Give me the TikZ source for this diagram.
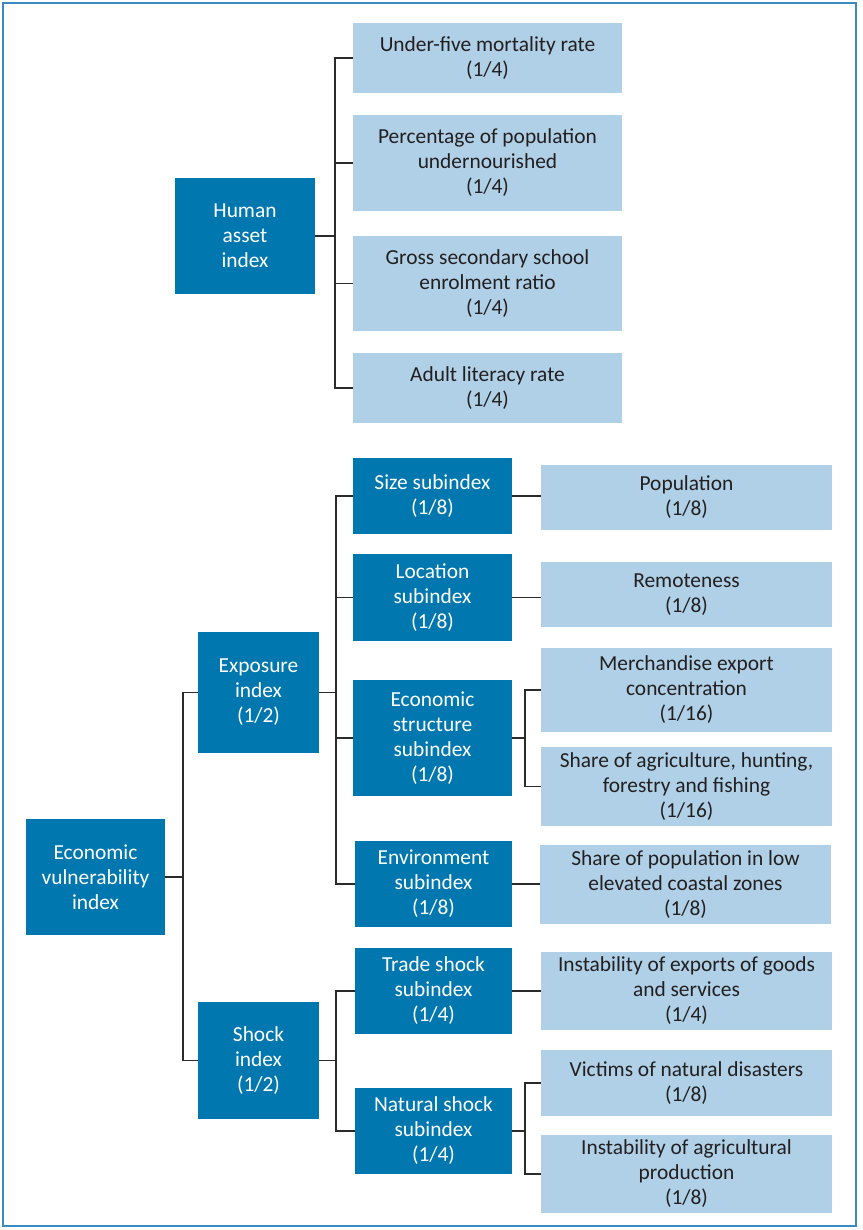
\documentclass[tikz,border=0pt]{standalone}
\usepackage{fontspec}
\setmainfont{Carlito}
\definecolor{dblue}{HTML}{0077AE}
\definecolor{lblue}{HTML}{AFD0E6}
\definecolor{txt}{HTML}{231F20}
\definecolor{lnc}{HTML}{2B2B2B}
\definecolor{frame}{HTML}{3A8CC0}
\begin{document}
\begin{tikzpicture}[x=1pt,y=-1pt,
  box/.style={rectangle,inner sep=0pt,align=center,font=\fontsize{21.4}{25}\selectfont},
  dbox/.style={box,fill=dblue,text=white},
  lbox/.style={box,fill=lblue,text=txt},
  conn/.style={draw=lnc,line width=1.6pt}]
\useasboundingbox (0,0) rectangle (862,1230);
\draw[frame,line width=1.2pt] (3,3) rectangle (856,1226);
% helper: node from corners
\newcommand{\bx}[6]{\node[#1,minimum width={#4-#2},minimum height={#5-#3}] (#6) at ({(#2+#4)/2},{(#3+#5)/2})}
% Human asset
\bx{dbox}{175}{178}{315}{294}{hai} {Human\\asset\\index};
\bx{lbox}{353}{23}{622}{93}{u5} {Under-five mortality rate\\(1/4)};
\bx{lbox}{353}{115}{622}{211}{pu} {Percentage of population\\undernourished\\(1/4)};
\bx{lbox}{353}{236}{622}{331}{gs} {Gross secondary school\\enrolment ratio\\(1/4)};
\bx{lbox}{353}{353}{622}{423}{al} {Adult literacy rate\\(1/4)};
\coordinate (f1) at (335,0);
\draw[conn] (hai.east) -- (hai.east -| f1);
\draw[conn] (u5.west) -- (u5.west -| f1) -- (al.west -| f1) -- (al.west);
\draw[conn] (pu.west) -- (pu.west -| f1);
\draw[conn] (gs.west) -- (gs.west -| f1);
% Economic vulnerability
\bx{dbox}{26}{819}{165}{935}{evi} {Economic\\vulnerability\\index};
\bx{dbox}{198}{632}{319}{753}{exp} {Exposure\\index\\(1/2)};
\bx{dbox}{198}{1002}{319}{1119}{shk} {Shock\\index\\(1/2)};
\coordinate (f2) at (183,0);
\draw[conn] (evi.east) -- (evi.east -| f2);
\draw[conn] (exp.west) -- (exp.west -| f2) -- (shk.west -| f2) -- (shk.west);
% subindices
\bx{dbox}{353}{458}{512}{534}{size} {Size subindex\\(1/8)};
\bx{dbox}{353}{554}{512}{641}{loc} {Location\\subindex\\(1/8)};
\bx{dbox}{353}{680}{512}{796}{ecs} {Economic\\structure\\subindex\\(1/8)};
\bx{dbox}{355}{841}{512}{927}{env} {Environment\\subindex\\(1/8)};
\bx{dbox}{355}{948}{512}{1034}{trd} {Trade shock\\subindex\\(1/4)};
\bx{dbox}{355}{1088}{512}{1174}{nat} {Natural shock\\subindex\\(1/4)};
\coordinate (f3) at (336,0);
\draw[conn] (exp.east) -- (exp.east -| f3);
\draw[conn] (size.west) -- (size.west -| f3) -- (env.west -| f3) -- (env.west);
\draw[conn] (loc.west) -- (loc.west -| f3);
\draw[conn] (ecs.west) -- (ecs.west -| f3);
\draw[conn] (shk.east) -- (shk.east -| f3);
\draw[conn] (trd.west) -- (trd.west -| f3) -- (nat.west -| f3) -- (nat.west);
% leaves
\bx{lbox}{541}{465}{832}{530}{pop} {Population\\(1/8)};
\bx{lbox}{541}{562}{832}{627}{rem} {Remoteness\\(1/8)};
\bx{lbox}{541}{648}{832}{732}{mec} {Merchandise export\\concentration\\(1/16)};
\bx{lbox}{541}{747}{832}{826}{agr} {Share of agriculture, hunting,\\forestry and fishing\\(1/16)};
\bx{lbox}{540}{845}{831}{924}{low} {Share of population in low\\elevated coastal zones\\(1/8)};
\bx{lbox}{541}{952}{832}{1030}{ins} {\fontsize{21.4}{21.5}\selectfont Instability of exports of goods\\and services\\(1/4)};
\bx{lbox}{541}{1050}{832}{1116}{vic} {Victims of natural disasters\\(1/8)};
\bx{lbox}{541}{1135}{832}{1213}{iap} {\fontsize{21.4}{21.5}\selectfont Instability of agricultural\\production\\(1/8)};
\coordinate (f4) at (525,0);
\draw[conn] (size.east) -- (size.east -| pop.west);
\draw[conn] (loc.east) -- (loc.east -| rem.west);
\draw[conn] (ecs.east) -- (ecs.east -| f4);
\draw[conn] (mec.west) -- (mec.west -| f4) -- (agr.west -| f4) -- (agr.west);
\draw[conn] (env.east) -- (env.east -| low.west);
\draw[conn] (trd.east) -- (trd.east -| ins.west);
\draw[conn] (nat.east) -- (nat.east -| f4);
\draw[conn] (vic.west) -- (vic.west -| f4) -- (iap.west -| f4) -- (iap.west);
\end{tikzpicture}
\end{document}
